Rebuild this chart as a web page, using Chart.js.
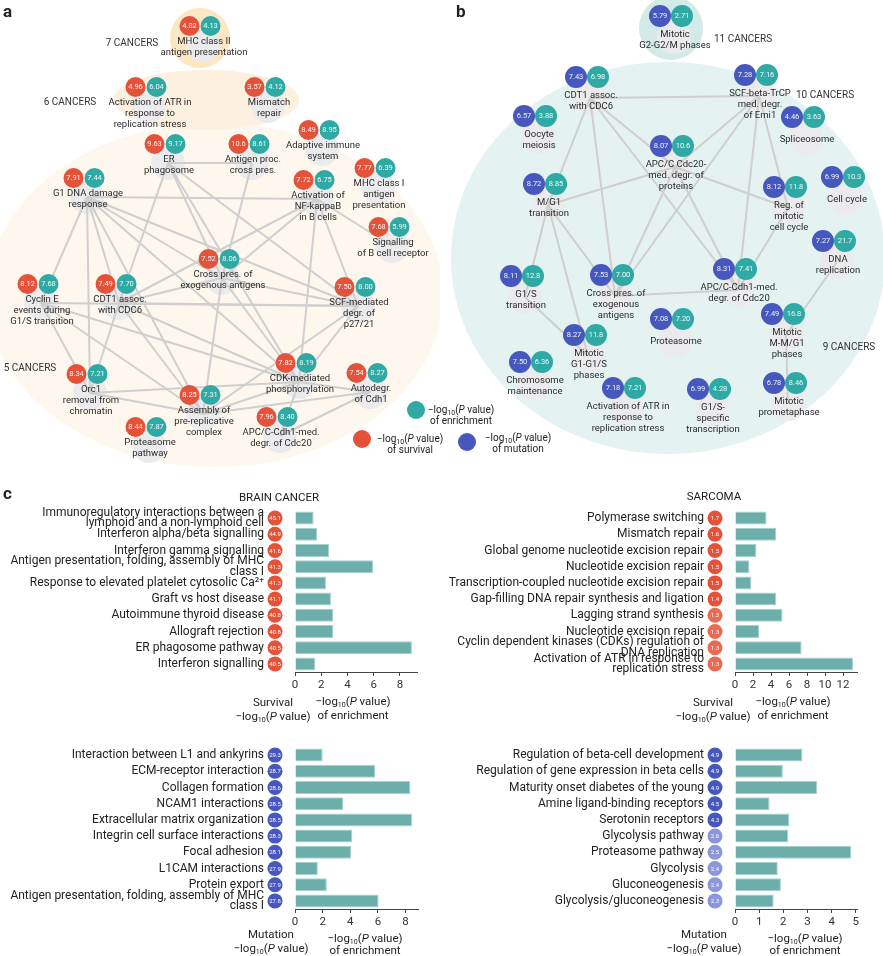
<!DOCTYPE html>
<html lang="en">
<head>
<meta charset="UTF-8">
<title>Pathway networks and enrichment</title>
<script src="https://cdn.jsdelivr.net/npm/chart.js@4"></script>
<style>
  body { margin: 0; background: #fff; font-family: Roboto, sans-serif; color: #222; }
  #fig { position: relative; width: 883px; height: 956px; overflow: hidden; background: #fff; }
  canvas { position: absolute; }
  .txt { position: absolute; font-size: 11.5px; line-height: 13px; text-align: center; white-space: nowrap; transform: translateX(-50%); }
  .small { font-size: 10px; line-height: 11px; }
  .txt sub { font-size: 7px; line-height: 0; vertical-align: -2px; }
  .letter { position: absolute; font-weight: bold; font-size: 17px; }
</style>
</head>
<body>
<div id="fig">
  <canvas id="netA" width="440" height="478" style="left:0;top:0"></canvas>
  <canvas id="netB" width="443" height="478" style="left:440px;top:0"></canvas>
  <canvas id="brainSurv" width="440" height="200" style="left:0;top:500px"></canvas>
  <canvas id="sarcSurv" width="443" height="200" style="left:440px;top:500px"></canvas>
  <canvas id="brainMut" width="440" height="200" style="left:0;top:737px"></canvas>
  <canvas id="sarcMut" width="443" height="200" style="left:440px;top:737px"></canvas>

  <div class="letter" style="left:3px;top:1px">a</div>
  <div class="letter" style="left:456px;top:1px">b</div>
  <div class="letter" style="left:3px;top:483px">c</div>

  <div class="txt small" style="left:461px;top:404px">−log<sub>10</sub>(<i>P</i> value)<br>of enrichment</div>
  <div class="txt small" style="left:410px;top:433px">−log<sub>10</sub>(<i>P</i> value)<br>of survival</div>
  <div class="txt small" style="left:518px;top:432px">−log<sub>10</sub>(<i>P</i> value)<br>of mutation</div>

  <div class="txt" style="left:279px;top:491px">BRAIN CANCER</div>
  <div class="txt" style="left:714px;top:490px">SARCOMA</div>

  <div class="txt" style="left:273px;top:695px;line-height:14px">Survival<br>−log<sub>10</sub>(<i>P</i> value)</div>
  <div class="txt" style="left:353px;top:694px;line-height:14px">−log<sub>10</sub>(<i>P</i> value)<br>of enrichment</div>
  <div class="txt" style="left:713px;top:695px;line-height:14px">Survival<br>−log<sub>10</sub>(<i>P</i> value)</div>
  <div class="txt" style="left:793px;top:694px;line-height:14px">−log<sub>10</sub>(<i>P</i> value)<br>of enrichment</div>
  <div class="txt" style="left:271px;top:927px;line-height:14px">Mutation<br>−log<sub>10</sub>(<i>P</i> value)</div>
  <div class="txt" style="left:365px;top:932px;line-height:12px">−log<sub>10</sub>(<i>P</i> value)<br>of enrichment</div>
  <div class="txt" style="left:704px;top:927px;line-height:14px">Mutation<br>−log<sub>10</sub>(<i>P</i> value)</div>
  <div class="txt" style="left:805px;top:932px;line-height:12px">−log<sub>10</sub>(<i>P</i> value)<br>of enrichment</div>
</div>

<script>
// ---------- panel a : survival network ----------
const aPathways = [
  ['MHC class II', 'antigen presentation'],
  ['Activation of ATR in', 'response to', 'replication stress'],
  ['Mismatch', 'repair'],
  ['Adaptive immune', 'system'],
  ['ER', 'phagosome'],
  ['Antigen proc.', 'cross pres.'],
  ['MHC class I', 'antigen', 'presentation'],
  ['G1 DNA damage', 'response'],
  ['Activation of', 'NF-kappaB', 'in B cells'],
  ['Signalling', 'of B cell receptor'],
  ['Cross pres. of', 'exogenous antigens'],
  ['Cyclin E', 'events during', 'G1/S transition'],
  ['CDT1 assoc.', 'with CDC6'],
  ['SCF-mediated', 'degr. of', 'p27/21'],
  ['Orc1', 'removal from', 'chromatin'],
  ['CDK-mediated', 'phosphorylation'],
  ['Autodegr.', 'of Cdh1'],
  ['Assembly of', 'pre-replicative', 'complex'],
  ['APC/C-Cdh1-med.', 'degr. of Cdc20'],
  ['Proteasome', 'pathway']
];
const aSurvival   = [4.82, 4.96, 3.57, 8.49, 9.63, 10.6, 7.77, 7.91, 7.72, 7.68, 7.52, 8.12, 7.49, 7.50, 8.34, 7.82, 7.54, 8.25, 7.96, 8.44];
const aEnrichment = [4.13, 6.04, 4.12, 8.95, 9.17, 8.61, 6.39, 7.44, 6.75, 5.99, 8.06, 7.68, 7.70, 8.00, 7.21, 8.19, 8.27, 7.31, 8.40, 7.87];
// node layout (network coordinates)
const aNodeX = [200, 146, 265, 319, 165, 249, 375, 84, 314, 389, 219, 38, 116, 355, 87, 296, 367, 200, 277, 146];
const aNodeY = [26, 87, 87, 130, 144, 144, 168, 178, 180, 227, 259, 284, 284, 287, 374, 363, 373, 395, 417, 427];
const aEdges = [[4,5],[4,12],[4,10],[4,15],[4,13],[5,10],[7,8],[7,11],[7,12],[7,10],[7,14],[7,15],[7,17],[7,13],
  [8,10],[8,12],[8,13],[8,15],[8,9],[11,13],[11,14],[11,15],[11,17],[12,10],[12,13],[12,14],[12,17],[12,15],
  [10,13],[10,15],[10,17],[13,15],[13,17],[14,17],[14,15],[17,15],[17,16],[15,16],[15,18],[16,18]];
const aGroups = ['7 CANCERS', '6 CANCERS', '5 CANCERS'];

// ---------- panel b : mutation network ----------
const bPathways = [
  ['Mitotic', 'G2-G2/M phases'],
  ['CDT1 assoc.', 'with CDC6'],
  ['SCF-beta-TrCP', 'med. degr.', 'of Emi1'],
  ['Oocyte', 'meiosis'],
  ['Spliceosome'],
  ['APC/C Cdc20-', 'med. degr. of', 'proteins'],
  ['Cell cycle'],
  ['M/G1', 'transition'],
  ['Reg. of', 'mitotic', 'cell cycle'],
  ['DNA', 'replication'],
  ['G1/S', 'transition'],
  ['Cross pres. of', 'exogenous', 'antigens'],
  ['APC/C-Cdh1-med.', 'degr. of Cdc20'],
  ['Proteasome'],
  ['Mitotic', 'M-M/G1', 'phases'],
  ['Mitotic', 'G1-G1/S', 'phases'],
  ['Chromosome', 'maintenance'],
  ['Activation of ATR in', 'response to', 'replication stress'],
  ['G1/S-', 'specific', 'transcription'],
  ['Mitotic', 'prometaphase']
];
const bMutation   = [5.79, 7.43, 7.28, 6.57, 4.46, 8.07, 6.99, 8.72, 8.12, 7.27, 8.11, 7.53, 8.31, 7.08, 7.49, 8.27, 7.50, 7.18, 6.99, 6.78];
const bEnrichment = [2.71, 6.98, 7.16, 3.88, 3.63, 10.6, 10.3, 8.85, 11.8, 21.7, 12.8, 7.00, 7.41, 7.20, 16.8, 11.8, 6.36, 7.21, 4.28, 8.46];
const bNodeX = [671, 587, 756, 535, 803, 672, 843, 545, 785, 834, 522, 612, 735, 672, 783, 585, 531, 624, 709, 785];
const bNodeY = [16, 77, 75, 116, 117, 146, 177, 184, 187, 241, 276, 275, 269, 319, 314, 335, 362, 388, 389, 383];
const bEdges = [[1,2],[1,7],[1,11],[1,12],[1,5],[2,5],[2,11],[2,12],[2,8],[7,5],[7,10],[7,15],[7,11],
  [5,8],[5,11],[5,12],[10,15],[11,12],[8,12],[9,14],[14,19]];
const bGroups = ['11 CANCERS', '10 CANCERS', '9 CANCERS'];

// ---------- panel c : enrichment bars ----------
const brainSurvLabels = [
  ['Immunoregulatory interactions between a', 'lymphoid and a non-lymphoid cell'],
  'Interferon alpha/beta signalling',
  'Interferon gamma signalling',
  ['Antigen presentation, folding, assembly of MHC', 'class I'],
  'Response to elevated platelet cytosolic Ca²⁺',
  'Graft vs host disease',
  'Autoimmune thyroid disease',
  'Allograft rejection',
  'ER phagosome pathway',
  'Interferon signalling'
];
const brainSurvEnrich = [1.42, 1.68, 2.61, 5.96, 2.36, 2.74, 2.92, 2.92, 8.91, 1.55];
const brainSurvP      = [45.1, 44.9, 41.6, 41.3, 41.3, 41.1, 40.8, 40.8, 40.5, 40.5];

const sarcSurvLabels = [
  'Polymerase switching',
  'Mismatch repair',
  'Global genome nucleotide excision repair',
  'Nucleotide excision repair',
  'Transcription-coupled nucleotide excision repair',
  'Gap-filling DNA repair synthesis and ligation',
  'Lagging strand synthesis',
  'Nucleotide excision repair',
  ['Cyclin dependent kinases (CDKs) regulation of', 'DNA replication'],
  ['Activation of ATR in response to', 'replication stress']
];
const sarcSurvEnrich = [3.5, 4.57, 2.38, 1.6, 1.82, 4.57, 5.28, 2.68, 7.4, 13.1];
const sarcSurvP      = [1.7, 1.6, 1.5, 1.5, 1.5, 1.4, 1.3, 1.3, 1.3, 1.3];

const brainMutLabels = [
  'Interaction between L1 and ankyrins',
  'ECM-receptor interaction',
  'Collagen formation',
  'NCAM1 interactions',
  'Extracellular matrix organization',
  'Integrin cell surface interactions',
  'Focal adhesion',
  'L1CAM interactions',
  'Protein export',
  ['Antigen presentation, folding, assembly of MHC', 'class I']
];
const brainMutEnrich = [2.0, 5.8, 8.35, 3.5, 8.47, 4.14, 4.07, 1.65, 2.3, 6.05];
const brainMutP      = [29.3, 28.7, 28.6, 28.5, 28.5, 28.3, 28.1, 27.9, 27.9, 27.8];

const sarcMutLabels = [
  'Regulation of beta-cell development',
  'Regulation of gene expression in beta cells',
  'Maturity onset diabetes of the young',
  'Amine ligand-binding receptors',
  'Serotonin receptors',
  'Glycolysis pathway',
  'Proteasome pathway',
  'Glycolysis',
  'Gluconeogenesis',
  'Glycolysis/gluconeogenesis'
];
const sarcMutEnrich = [2.79, 1.98, 3.4, 1.43, 2.25, 2.2, 4.81, 1.77, 1.9, 1.6];
const sarcMutP      = [4.9, 4.9, 4.9, 4.5, 4.3, 2.6, 2.5, 2.4, 2.4, 2.3];

// ---------- drawing ----------
const RED = '#e4523a';
const TEAL = '#2fa9a3';
const BLUE = '#4657bd';

const netPlugin = {
  id: 'net',
  beforeDatasetsDraw(chart, args, o) {
    const { ctx } = chart;
    const sx = chart.scales.x, sy = chart.scales.y;
    ctx.save();
    o.regions.forEach(r => {
      const cx = sx.getPixelForValue(r.cx), cy = sy.getPixelForValue(r.cy);
      ctx.fillStyle = r.color;
      ctx.beginPath();
      ctx.ellipse(cx, cy, Math.abs(sx.getPixelForValue(r.cx + r.rx) - cx), Math.abs(sy.getPixelForValue(r.cy + r.ry) - cy), 0, 0, 2 * Math.PI);
      ctx.fill();
    });
    ctx.restore();
  },
  afterDatasetsDraw(chart, args, o) {
    const { ctx } = chart;
    const sx = chart.scales.x, sy = chart.scales.y;
    ctx.save();
    ctx.textAlign = 'center';
    ctx.textBaseline = 'middle';
    // numbers inside the circles
    ctx.font = o.numFont;
    ctx.fillStyle = 'rgba(255,255,255,0.92)';
    [[o.leftSet, o.leftVals], [o.leftSet + 1, o.rightVals]].forEach(([di, vals]) => {
      chart.getDatasetMeta(di).data.forEach((el, i) => ctx.fillText(vals[i].toPrecision(3), el.x, el.y + 0.5));
    });
    // pathway names
    ctx.font = '9.5px Roboto';
    ctx.fillStyle = '#2b2b2b';
    o.names.forEach((lines, i) => {
      const x0 = sx.getPixelForValue(o.nodeX[i] + 4);
      const y0 = sy.getPixelForValue(o.nodeY[i] + (lines.length === 1 ? o.singleDy : o.multiDy));
      lines.forEach((t, k) => ctx.fillText(t, x0, y0 + k * 11));
    });
    // group captions
    ctx.font = '10px Roboto';
    ctx.fillStyle = '#333';
    o.groups.forEach((g, i) => ctx.fillText(o.groupNames[i], sx.getPixelForValue(g.x), sy.getPixelForValue(g.y)));
    // legend dots
    o.legend.forEach(d => {
      ctx.fillStyle = d.color;
      ctx.beginPath();
      ctx.arc(sx.getPixelForValue(d.x), sy.getPixelForValue(d.y), 9, 0, 2 * Math.PI);
      ctx.fill();
    });
    ctx.restore();
  }
};

function network(id, xMin, xMax, names, leftVals, rightVals, nodeX, nodeY, edges, leftColor, look) {
  const halo = nodeX.map((x, i) => ({ x: x + 3, y: nodeY[i] + look.haloDy }));
  const datasets = [{ data: halo, pointRadius: 17, backgroundColor: '#ebebed', borderWidth: 0, order: 4 }];
  edges.forEach(([a, b]) => datasets.push({
    data: [halo[a], halo[b]], showLine: true, pointRadius: 0,
    borderColor: '#cfcfcf', borderWidth: 2, order: 3
  }));
  const leftSet = datasets.length;
  datasets.push({ data: nodeX.map((x, i) => ({ x: x - look.gap, y: nodeY[i] })), pointRadius: look.r, backgroundColor: leftColor, borderWidth: 0, order: 1 });
  datasets.push({ data: nodeX.map((x, i) => ({ x: x + look.gap, y: nodeY[i] })), pointRadius: look.r, backgroundColor: TEAL, borderWidth: 0, order: 2 });

  return new Chart(document.getElementById(id), {
    type: 'scatter',
    data: { datasets },
    options: {
      responsive: false, animation: false, devicePixelRatio: 1, events: [],
      layout: { padding: 0, autoPadding: false },
      plugins: {
        legend: { display: false }, tooltip: { enabled: false },
        net: Object.assign({ names, leftVals, rightVals, nodeX, nodeY, leftSet }, look)
      },
      scales: {
        x: { type: 'linear', min: xMin, max: xMax, display: false },
        y: { type: 'linear', min: 0, max: 478, reverse: true, display: false }
      }
    },
    plugins: [netPlugin]
  });
}

network('netA', 0, 440, aPathways, aSurvival, aEnrichment, aNodeX, aNodeY, aEdges, RED, {
  r: 10, gap: 10.5, haloDy: 19, multiDy: 16, singleDy: 20, numFont: '7.5px Roboto',
  regions: [
    { cx: 215, cy: 295, rx: 228, ry: 172, color: '#fef7ee' },
    { cx: 206, cy: 100, rx: 93, ry: 30, color: '#fdf0de' },
    { cx: 200, cy: 38, rx: 30, ry: 30, color: '#fde6c2' }
  ],
  groupNames: aGroups,
  groups: [{ x: 132, y: 43 }, { x: 70, y: 102 }, { x: 30, y: 368 }],
  legend: [{ x: 416, y: 410, color: TEAL }, { x: 362, y: 439, color: RED }]
});

network('netB', 440, 883, bPathways, bMutation, bEnrichment, bNodeX, bNodeY, bEdges, BLUE, {
  r: 11, gap: 11, haloDy: 21, multiDy: 19, singleDy: 23, numFont: '7.5px Roboto',
  regions: [
    { cx: 668, cy: 258, rx: 217, ry: 196, color: '#e4f2f1' },
    { cx: 671, cy: 28, rx: 32, ry: 32, color: '#d3eae8' }
  ],
  groupNames: bGroups,
  groups: [{ x: 743, y: 39 }, { x: 825, y: 95 }, { x: 849, y: 347 }],
  legend: [{ x: 467, y: 442, color: BLUE }]
});

// pathway names plus the circles with -log10(P) next to each of them
const markPlugin = {
  id: 'marks',
  afterDraw(chart, args, o) {
    const { ctx, chartArea } = chart;
    const ys = chart.scales.y;
    ctx.save();
    ctx.textBaseline = 'middle';
    ctx.textAlign = 'right';
    ctx.font = '12px Roboto';
    ctx.fillStyle = '#222';
    chart.data.labels.forEach((lab, i) => {
      const lines = Array.isArray(lab) ? lab : [lab];
      const y = ys.getPixelForValue(i);
      lines.forEach((t, k) => ctx.fillText(t, chartArea.left - 31, y + (k - (lines.length - 1) / 2) * 10.5));
    });
    ctx.textAlign = 'center';
    o.values.forEach((v, i) => {
      const x = chartArea.left - 20, y = ys.getPixelForValue(i);
      ctx.fillStyle = o.color(v);
      ctx.beginPath();
      ctx.arc(x, y, 7.5, 0, 2 * Math.PI);
      ctx.fill();
      ctx.fillStyle = '#fff';
      ctx.font = '6px Roboto';
      ctx.fillText(v.toFixed(1), x, y + 0.5);
    });
    ctx.restore();
  }
};

const survivalColor = v => (v < 1.4 ? '#e86c55' : RED);
const mutationColor = v => (v < 3 ? '#8c96d8' : BLUE);

function bars(id, labels, enrich, pvals, color, xMax, step, padRight) {
  return new Chart(document.getElementById(id), {
    type: 'bar',
    data: {
      labels: labels,
      datasets: [{
        data: enrich, backgroundColor: '#6caeaa', borderColor: '#a7d2ce', borderWidth: 1,
        barPercentage: 0.8, categoryPercentage: 1
      }]
    },
    options: {
      indexAxis: 'y', responsive: false, animation: false, devicePixelRatio: 1, events: [],
      layout: { padding: { top: 10, right: padRight, left: 0, bottom: 0 }, autoPadding: false },
      plugins: {
        legend: { display: false }, tooltip: { enabled: false },
        marks: { values: pvals, color: color }
      },
      scales: {
        x: {
          min: 0, max: xMax,
          ticks: { stepSize: step, includeBounds: false, maxRotation: 0, color: '#333', font: { size: 11.5, family: 'Roboto' }, padding: 2 },
          grid: { display: true, drawOnChartArea: false, tickLength: 4, color: '#444' },
          border: { display: true, color: '#444' },
          afterFit: s => { s.height = 28; s.paddingLeft = 0; s.paddingRight = 0; }
        },
        y: {
          grid: { display: false, drawTicks: false },
          border: { display: false },
          ticks: { display: false },
          afterFit: s => { s.width = 295; s.paddingTop = 0; s.paddingBottom = 0; }
        }
      }
    },
    plugins: [markPlugin]
  });
}

bars('brainSurv', brainSurvLabels, brainSurvEnrich, brainSurvP, survivalColor, 9.3, 2, 23);
bars('sarcSurv', sarcSurvLabels, sarcSurvEnrich, sarcSurvP, survivalColor, 13.55, 2, 26);
bars('brainMut', brainMutLabels, brainMutEnrich, brainMutP, mutationColor, 8.9, 2, 22);
bars('sarcMut', sarcMutLabels, sarcMutEnrich, sarcMutP, mutationColor, 5.05, 1, 26);
</script>
</body>
</html>
